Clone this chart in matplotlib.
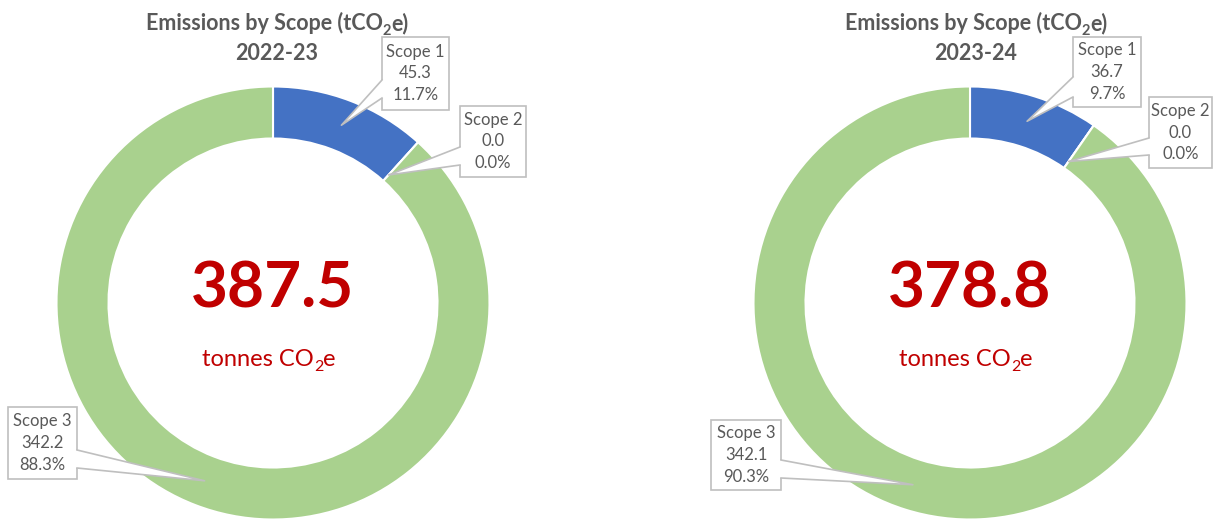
import matplotlib
matplotlib.use("Agg")
import matplotlib.pyplot as plt
from matplotlib.patches import Rectangle, Polygon
import numpy as np

plt.rcParams['font.family'] = ['Lato', 'DejaVu Sans']

# data
scopes = ["Scope 1", "Scope 2", "Scope 3"]
years = ["2022-23", "2023-24"]
values_2223 = [45.3, 0.0, 342.2]
values_2324 = [36.7, 0.0, 342.1]
colors = ["#4472C4", "#A9D18E", "#A9D18E"]

W, H = 1214, 522
GRAY = "#595959"
RED = "#C00000"
EDGE = "#BFBFBF"

def fy(y):
    return H - y

# layout in pixels (y down): donut centre, label boxes (x0, y0, x1, y1), pointer side and base ys
charts = [
    dict(year=years[0], vals=values_2223, cx=273, cy=303, tx=277,
         boxes=[((382, 37, 449, 110), 'left', (80, 98)),
                ((460, 106, 526, 177), 'left', (147, 165)),
                ((8, 407, 77, 479), 'right', (450, 468))]),
    dict(year=years[1], vals=values_2324, cx=970, cy=303, tx=976,
         boxes=[((1073, 37, 1141, 107), 'left', (77, 97)),
                ((1149, 97, 1212, 168), 'left', (138, 155)),
                ((711, 420, 781, 490), 'right', (460, 478))]),
]
R = 216.5
RING = 52

fig = plt.figure(figsize=(W / 100, H / 100), dpi=100)
ax = fig.add_axes([0, 0, 1, 1])
renderer = fig.canvas.get_renderer()


def sub_text(x, y, pieces, **kw):
    # pieces: (string, fontsize, drop in px); centred on x, baseline at y (px, y down)
    texts = []
    for s, fs, dy in pieces:
        t = ax.text(0, 0, s, fontsize=fs, ha='left', va='baseline', **kw)
        texts.append((t, dy))
    widths = [t.get_window_extent(renderer).width for t, _ in texts]
    pos = x - sum(widths) / 2
    for (t, dy), w in zip(texts, widths):
        t.set_position((pos, fy(y + dy)))
        pos += w


for ch in charts:
    vals = ch['vals']
    cx, cy = ch['cx'], ch['cy']
    total = sum(vals)
    ax.pie(vals, colors=colors, startangle=90, counterclock=False,
           center=(cx, fy(cy)), radius=R,
           wedgeprops=dict(width=RING, edgecolor='white', linewidth=1.5))

    sub_text(ch['tx'], 30, [("Emissions by Scope (tCO", 15.5, 0), ("2", 10.5, 5), ("e)", 15.5, 0)],
             fontweight='bold', color=GRAY)
    ax.text(ch['tx'], fy(60), ch['year'], ha='center', va='baseline',
            fontsize=15.5, fontweight='bold', color=GRAY)

    ax.text(cx, fy(308), f"{total:.1f}", ha='center', va='baseline',
            fontsize=46, fontweight='bold', color=RED)
    sub_text(cx - 4, 366, [("tonnes CO", 17, 0), ("2", 11.5, 5), ("e", 17, 0)], color=RED)

    fr = np.array(vals) / total
    cum = np.concatenate([[0], np.cumsum(fr)])
    for i, (box, side, bys) in enumerate(ch['boxes']):
        x0, y0, x1, y1 = box
        mid = 90 - 360 * (cum[i] + fr[i] / 2)
        r = R - RING / 2 if vals[i] > 0 else R - RING + 8
        tipx = cx + r * np.cos(np.radians(mid))
        tipy = fy(cy) + r * np.sin(np.radians(mid))
        bx = x0 if side == 'left' else x1
        inside = 3 if side == 'left' else -3
        ax.add_patch(Rectangle((x0, fy(y1)), x1 - x0, y1 - y0, facecolor='white',
                               edgecolor=EDGE, linewidth=1.2, zorder=5))
        ax.add_patch(Polygon([(bx + inside, fy(bys[0])), (bx, fy(bys[0])), (tipx, tipy),
                              (bx, fy(bys[1])), (bx + inside, fy(bys[1]))],
                             closed=True, facecolor='white', edgecolor='none', zorder=6))
        ax.plot([bx, tipx, bx], [fy(bys[0]), tipy, fy(bys[1])], color=EDGE, lw=1.2, zorder=7)
        ax.text((x0 + x1) / 2, fy((y0 + y1) / 2), f"{scopes[i]}\n{vals[i]:.1f}\n{fr[i] * 100:.1f}%",
                ha='center', va='center', fontsize=12, color=GRAY, linespacing=1.45, zorder=8)

ax.set_xlim(0, W)
ax.set_ylim(0, H)
ax.set_aspect('equal')
ax.axis('off')

fig.savefig("out.png", dpi=100)
